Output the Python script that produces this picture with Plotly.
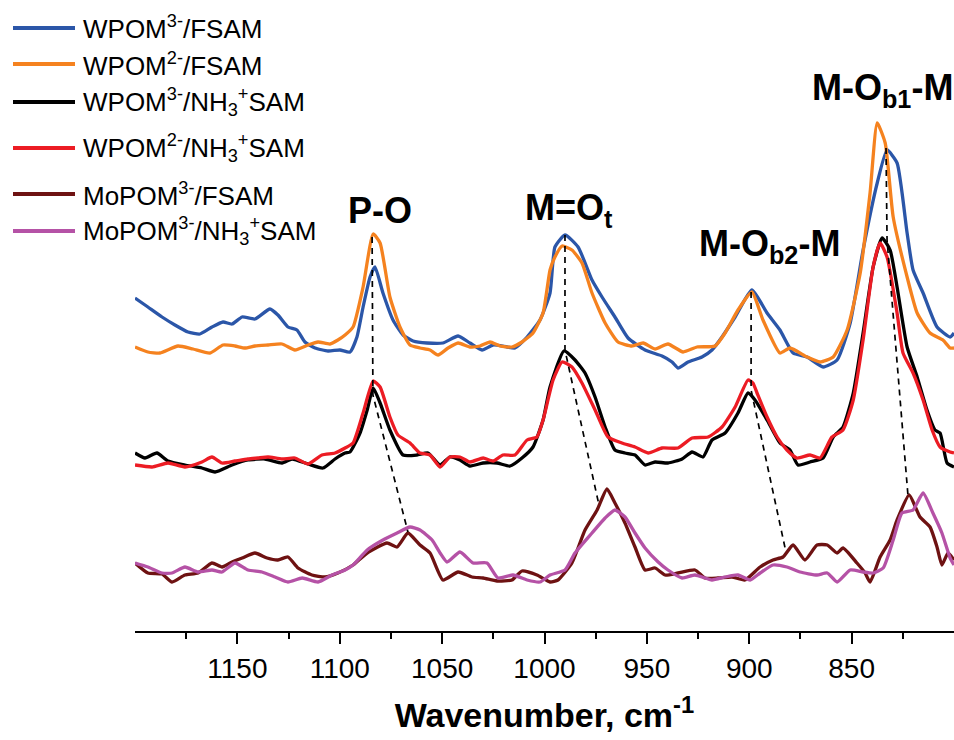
import plotly.graph_objects as go

# ---------------- data (wavenumber in cm-1, intensity in arbitrary offset units) ----------------
wn_w3_fsam = [
    1200.0, 1193.7, 1186.8, 1180.5, 1174.1, 1168.3, 1162.4, 1157.0, 1152.6, 1147.7,
    1141.4, 1134.1, 1130.2, 1125.3, 1120.9, 1117.0, 1112.1, 1105.7, 1099.9, 1095.0,
    1091.6, 1088.6, 1085.2, 1082.8, 1078.9, 1074.0, 1069.1, 1064.2, 1057.4, 1049.6,
    1042.2, 1036.4, 1030.5, 1025.1, 1018.3, 1014.4, 1008.5, 1002.2, 997.3, 994.9,
    990.0, 983.6, 976.8, 971.9, 965.6, 959.2, 950.9, 942.6, 937.7, 934.8,
    929.9, 923.1, 918.2, 913.3, 906.9, 898.7, 891.3, 885.0, 878.6, 871.8,
    863.9, 857.1, 850.7, 844.4, 837.5, 832.7, 827.8, 822.9, 820.0, 815.1,
    808.3, 801.9, 800.0]
int_w3_fsam = [
    333, 324, 314, 306, 299, 297, 304, 309, 307, 314,
    312, 322, 316, 304, 301, 289, 283, 280, 281, 279,
    294, 324, 354, 364, 338, 311, 296, 290, 288, 288,
    295, 288, 281, 286, 284, 283, 294, 311, 338, 384,
    396, 384, 351, 334, 314, 293, 281, 275, 269, 263,
    269, 274, 281, 294, 314, 341, 318, 301, 278, 274,
    264, 271, 308, 381, 448, 481, 468, 398, 361, 338,
    304, 294, 298]

wn_w2_fsam = [
    1200.0, 1193.7, 1187.8, 1179.0, 1171.7, 1163.4, 1157.0, 1151.2, 1146.3, 1141.4,
    1135.0, 1128.2, 1121.9, 1115.5, 1110.6, 1104.8, 1100.9, 1097.4, 1093.5, 1088.6,
    1083.7, 1080.3, 1075.5, 1070.6, 1065.7, 1060.8, 1055.9, 1052.0, 1047.1, 1042.2,
    1036.4, 1031.5, 1026.6, 1021.7, 1015.9, 1011.0, 1005.6, 1000.7, 997.3, 994.9,
    991.4, 986.6, 981.7, 976.8, 970.4, 964.1, 957.3, 951.8, 946.0, 939.7,
    932.3, 925.5, 916.7, 911.8, 905.5, 898.7, 893.3, 885.0, 880.1, 871.8,
    865.4, 859.0, 852.2, 845.8, 841.0, 837.5, 833.6, 829.7, 822.9, 818.0,
    811.7, 805.4, 801.9, 800.0]
int_w2_fsam = [
    284, 279, 278, 285, 282, 278, 286, 285, 283, 285,
    286, 287, 281, 286, 289, 287, 291, 296, 304, 344,
    397, 388, 334, 304, 286, 283, 281, 276, 283, 288,
    284, 285, 289, 285, 284, 289, 298, 318, 361, 374,
    385, 381, 368, 338, 308, 289, 285, 288, 282, 287,
    279, 284, 285, 298, 321, 339, 311, 278, 283, 274,
    269, 274, 301, 358, 438, 508, 488, 414, 354, 318,
    298, 291, 283, 283]

wn_w3_nh3 = [
    1200.0, 1195.1, 1189.3, 1183.9, 1175.6, 1167.3, 1160.9, 1152.6, 1144.8, 1136.5,
    1128.2, 1123.3, 1115.5, 1108.2, 1102.3, 1097.4, 1095.0, 1090.1, 1086.6, 1083.7,
    1080.3, 1075.5, 1069.1, 1062.3, 1056.9, 1051.0, 1046.2, 1041.3, 1036.4, 1030.0,
    1023.2, 1016.8, 1011.0, 1005.6, 1000.7, 997.3, 990.5, 985.1, 980.2, 975.3,
    970.4, 965.6, 960.7, 955.8, 950.9, 946.0, 939.7, 932.8, 927.9, 922.6,
    918.2, 911.8, 905.5, 900.6, 897.2, 891.3, 885.0, 880.1, 876.2, 870.3,
    863.9, 859.0, 854.2, 849.2, 844.4, 839.5, 835.1, 831.2, 827.8, 822.9,
    818.0, 813.2, 809.3, 806.8, 803.4, 800.0]
int_w3_nh3 = [
    178, 173, 178, 170, 166, 163, 159, 166, 171, 172,
    168, 172, 167, 163, 172, 178, 179, 198, 221, 243,
    228, 201, 176, 176, 178, 166, 174, 171, 165, 168,
    168, 165, 173, 184, 211, 244, 280, 271, 258, 234,
    204, 181, 178, 176, 166, 169, 168, 172, 179, 174,
    191, 198, 218, 238, 231, 211, 188, 181, 166, 169,
    173, 194, 204, 238, 298, 364, 393, 381, 344, 284,
    254, 221, 201, 198, 168, 164]

wn_w2_nh3 = [
    1200.0, 1191.7, 1183.9, 1175.6, 1167.3, 1162.4, 1157.5, 1151.2, 1144.8, 1139.9,
    1135.0, 1128.2, 1121.9, 1115.5, 1108.7, 1102.3, 1097.4, 1093.5, 1088.6, 1083.7,
    1080.3, 1075.5, 1071.6, 1065.7, 1060.8, 1055.9, 1051.0, 1046.2, 1041.3, 1036.4,
    1030.0, 1025.1, 1020.3, 1014.4, 1008.5, 1003.7, 1000.7, 995.8, 991.4, 986.6,
    981.7, 975.3, 969.0, 962.2, 955.8, 949.4, 942.6, 934.8, 927.9, 920.1,
    913.3, 906.9, 900.6, 898.2, 896.2, 891.3, 886.4, 881.6, 876.7, 870.3,
    865.4, 859.6, 854.2, 849.2, 844.4, 839.5, 836.1, 832.7, 827.8, 824.9,
    820.0, 815.1, 810.7, 806.8, 801.9, 800.0]
int_w2_nh3 = [
    166, 164, 168, 164, 169, 174, 168, 170, 172, 173,
    174, 172, 173, 167, 176, 178, 183, 188, 218, 250,
    244, 214, 196, 188, 178, 176, 164, 174, 174, 169,
    173, 170, 176, 176, 191, 194, 211, 251, 269, 264,
    248, 221, 194, 188, 184, 178, 183, 183, 193, 194,
    204, 224, 251, 248, 238, 214, 194, 181, 173, 176,
    173, 194, 201, 231, 291, 364, 388, 374, 318, 278,
    258, 231, 201, 184, 179, 178]

wn_mo3_fsam = [
    1200.0, 1193.7, 1186.8, 1181.9, 1175.6, 1169.2, 1162.4, 1157.5, 1152.6, 1147.7,
    1141.4, 1135.5, 1130.2, 1125.3, 1120.4, 1113.6, 1107.2, 1100.9, 1093.5, 1086.6,
    1076.9, 1072.0, 1066.7, 1060.8, 1055.9, 1049.6, 1042.2, 1035.4, 1030.0, 1023.2,
    1015.9, 1011.0, 1003.7, 997.3, 993.4, 986.6, 980.2, 974.3, 969.5, 965.6,
    960.7, 955.8, 950.9, 946.0, 941.1, 934.8, 926.5, 921.6, 915.3, 908.4,
    902.1, 894.7, 888.4, 883.5, 878.6, 872.8, 866.9, 861.9, 857.1, 854.2,
    847.4, 843.4, 841.0, 836.1, 831.2, 827.8, 821.9, 816.6, 811.7, 808.3,
    805.9, 802.9, 800.0]
int_mo3_fsam = [
    68, 58, 57, 49, 56, 58, 68, 64, 69, 73,
    78, 73, 71, 74, 63, 56, 54, 58, 66, 78,
    88, 84, 98, 86, 78, 51, 59, 54, 53, 50,
    51, 60, 56, 49, 51, 68, 101, 121, 142, 128,
    108, 84, 61, 63, 56, 58, 61, 53, 53, 54,
    51, 64, 71, 74, 86, 71, 86, 86, 78, 83,
    68, 58, 49, 74, 91, 111, 136, 114, 104, 84,
    66, 78, 71]

wn_mo3_nh3 = [
    1200.0, 1193.7, 1186.8, 1181.9, 1175.6, 1169.2, 1162.4, 1157.5, 1151.2, 1144.8,
    1138.0, 1131.6, 1125.3, 1118.4, 1110.6, 1103.8, 1097.4, 1093.5, 1086.6, 1078.9,
    1072.0, 1065.7, 1060.8, 1054.9, 1051.0, 1047.6, 1041.3, 1034.9, 1028.1, 1022.7,
    1015.4, 1008.5, 1002.2, 997.3, 990.0, 985.1, 976.8, 970.4, 965.6, 960.7,
    955.8, 950.9, 944.5, 939.7, 932.8, 926.5, 918.2, 911.8, 905.5, 899.6,
    894.7, 888.4, 881.6, 875.2, 866.9, 861.9, 857.1, 850.7, 844.4, 839.5,
    834.6, 829.7, 825.4, 820.0, 815.1, 810.3, 805.9, 801.9, 800.0]
int_mo3_nh3 = [
    68, 64, 58, 58, 64, 59, 61, 59, 68, 61,
    59, 54, 49, 53, 49, 56, 61, 66, 81, 91,
    98, 104, 101, 91, 78, 69, 79, 68, 68, 53,
    56, 51, 49, 56, 61, 78, 98, 113, 121, 114,
    98, 83, 69, 61, 53, 56, 51, 54, 56, 51,
    58, 66, 64, 59, 56, 58, 49, 61, 59, 58,
    63, 91, 118, 121, 138, 118, 98, 73, 66]

# peak-shift guide lines (wavenumber, intensity)
guide_po_wn = [1084.2, 1083.8, 1066.7]
guide_po_int = [394, 236, 99]
guide_mot_wn = [990.0, 990.0, 973.4]
guide_mot_int = [396, 281, 126]
guide_mob2_wn = [899.1, 899.1, 882.5]
guide_mob2_int = [339, 241, 83]
guide_mob1_wn = [833.2, 832.7, 822.5]
guide_mob1_int = [483, 391, 136]

series_names = [
    "WPOM<sup>3-</sup>/FSAM",
    "WPOM<sup>2-</sup>/FSAM",
    "WPOM<sup>3-</sup>/NH<sub>3</sub><sup>+</sup>SAM",
    "WPOM<sup>2-</sup>/NH<sub>3</sub><sup>+</sup>SAM",
    "MoPOM<sup>3-</sup>/FSAM",
    "MoPOM<sup>3-</sup>/NH<sub>3</sub><sup>+</sup>SAM",
]
series_colors = ["#2b56a8", "#f5821f", "#000000", "#ec1c24", "#6e1212", "#b552a6"]

band_labels = ["<b>P-O</b>", "<b>M=O<sub>t</sub></b>", "<b>M-O<sub>b2</sub>-M</b>", "<b>M-O<sub>b1</sub>-M</b>"]
band_label_wn = [1080.3, 988.0, 889.9, 834.9]
band_label_int = [421, 421, 385, 541]

tick_vals = [1150, 1100, 1050, 1000, 950, 900, 850]
minor_tick_vals = [1175, 1125, 1075, 1025, 975, 925, 875, 825]

FONT = "Arial, 'Liberation Sans', sans-serif"

series = [
    (wn_w3_fsam, int_w3_fsam),
    (wn_w2_fsam, int_w2_fsam),
    (wn_w3_nh3, int_w3_nh3),
    (wn_w2_nh3, int_w2_nh3),
    (wn_mo3_fsam, int_mo3_fsam),
    (wn_mo3_nh3, int_mo3_nh3),
]

fig = go.Figure()
for (x, y), name, col in zip(series, series_names, series_colors):
    fig.add_trace(go.Scatter(x=x, y=y, mode="lines", name=name,
                             line=dict(color=col, width=3.3, shape="spline", smoothing=0.5),
                             showlegend=False))

for gx, gy in [(guide_po_wn, guide_po_int), (guide_mot_wn, guide_mot_int),
               (guide_mob2_wn, guide_mob2_int), (guide_mob1_wn, guide_mob1_int)]:
    fig.add_trace(go.Scatter(x=gx, y=gy, mode="lines", showlegend=False,
                             line=dict(color="black", width=1.7, dash="6px,5px")))

# band labels
for txt, bx, by in zip(band_labels, band_label_wn, band_label_int):
    fig.add_annotation(x=bx, y=by, xref="x", yref="y", text=txt, showarrow=False,
                       xanchor="center", yanchor="middle",
                       font=dict(family=FONT, size=36, color="black"))

# manual legend (left of plot area)
W_PLOT = 819.0
H_PLOT = 631.0
L_MARGIN = 135.0
leg_rows_px = [28, 64, 102, 148, 194, 231]
for name, col, ry in zip(series_names, series_colors, leg_rows_px):
    yp = (H_PLOT - ry) / H_PLOT
    fig.add_shape(type="line", xref="paper", yref="paper",
                  x0=(13 - L_MARGIN) / W_PLOT, x1=(75 - L_MARGIN) / W_PLOT,
                  y0=yp, y1=yp, line=dict(color=col, width=4))
    fig.add_annotation(x=(81 - L_MARGIN) / W_PLOT, y=yp, xref="paper", yref="paper",
                       text=name, showarrow=False, xanchor="left", yanchor="middle",
                       font=dict(family=FONT, size=26, color="black"))

fig.update_xaxes(
    range=[1200, 800], showgrid=False, zeroline=False,
    showline=True, linecolor="black", linewidth=2, mirror=False,
    ticks="outside", ticklen=11, tickwidth=2, tickcolor="black",
    tickmode="array", tickvals=tick_vals, ticktext=[str(v) for v in tick_vals],
    tickfont=dict(family=FONT, size=28, color="black"),
    minor=dict(ticks="outside", ticklen=6, tickwidth=2, tickcolor="black",
               tickmode="array", tickvals=minor_tick_vals),
    title=dict(text="<b>Wavenumber, cm<sup>-1</sup></b>",
               font=dict(family=FONT, size=34, color="black"), standoff=21),
)
fig.update_yaxes(range=[0, 631], visible=False, showgrid=False, zeroline=False)

fig.update_layout(
    width=954, height=740,
    margin=dict(l=135, r=0, t=0, b=109, autoexpand=False),
    plot_bgcolor="white", paper_bgcolor="white",
    showlegend=False,
)

fig.write_html("out.html")
